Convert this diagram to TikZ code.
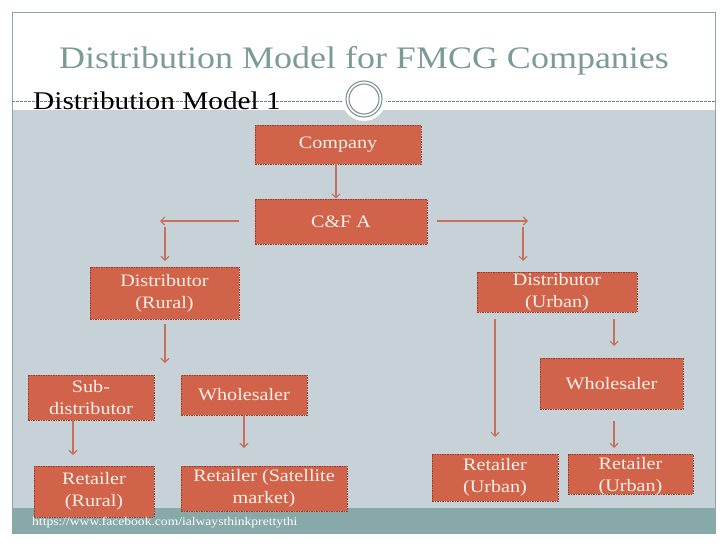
\documentclass[tikz,border=0pt]{standalone}
\usepackage{fontspec}
\setmainfont[FakeStretch=1.15]{Liberation Serif}
\usetikzlibrary{arrows.meta}
\definecolor{boxfill}{HTML}{D1634A}
\definecolor{boxline}{HTML}{9C3E2C}
\definecolor{boxtext}{HTML}{FBF1E8}
\definecolor{arrowc}{HTML}{C7705C}
\definecolor{slidebg}{HTML}{C6D2D8}
\definecolor{band}{HTML}{87A9AA}
\definecolor{frame}{HTML}{8EA5A5}
\definecolor{titlec}{HTML}{7B9B97}
\tikzset{
  boxfont/.style={text=boxtext, align=center, font=\fontsize{17.5}{22}\selectfont},
  box/.style={draw=boxline, fill=boxfill, dash pattern=on 1.5pt off 1pt, line width=0.6pt,
    inner sep=0pt, boxfont},
  arr/.style={draw=arrowc, line width=1.1pt, -{Straight Barb[length=4pt,width=8pt]}},
}
\begin{document}
\begin{tikzpicture}[x=1pt,y=-1pt]
\useasboundingbox (0,0) rectangle (728,546);
\fill[white] (0,0) rectangle (728,546);
% slide background
\fill[slidebg] (12,110) rectangle (715,508);
\fill[band] (12,508) rectangle (715,533);
\draw[frame, line width=0.9pt] (12,12) rectangle (715,533);
\draw[frame!80!black, line width=0.5pt, dash pattern=on 2.5pt off 1.5pt] (12,101) -- (715,101);
\fill[white] (364,99) circle (22);
\draw[frame!90!black, line width=1.1pt] (364,99) circle (18);
\draw[frame!90!black, line width=1.1pt] (364,99) circle (15);
% titles
\node[anchor=base, text=titlec, font=\fontsize{31.3}{38}\selectfont, inner sep=0pt] (title) at (364,68) {Distribution Model for FMCG Companies};
\node[anchor=base west, font=\fontsize{25.5}{30}\selectfont, text=black, inner sep=0pt] (sub) at (33,109) {Distribution Model 1};
% boxes
\node[box, minimum width=166, minimum height=39] (company) at (338,144.5) {Company};
\node[box, minimum width=172, minimum height=45] (cfa) at (341,221.5) {C\&F A};
\node[box, minimum width=149, minimum height=52] (distR) at (164.5,293) {Distributor\\(Rural)};
\node[box, minimum width=160, minimum height=40] (distU) at (557,292) {Distributor\\(Urban)};
\node[box, minimum width=126, minimum height=45] (subd) at (91,397.5) {Sub-\\distributor};
\node[box, minimum width=126, minimum height=40] (wholeL) at (244,395) {Wholesaler};
\node[box, minimum width=143, minimum height=51] (wholeR) at (611.5,383.5) {Wholesaler};
\node[box, minimum width=120, minimum height=51] (retR) at (94,491.5) {Retailer\\(Rural)};
\node[box, minimum width=166, minimum height=45] (retS) at (264,488.5) {Retailer (Satellite\\market)};
\node[box, minimum width=126, minimum height=47] (retU1) at (495,477.5) {Retailer\\(Urban)};
\node[box, minimum width=125, minimum height=40,
  label={[boxfont, yshift=-2pt]center:Retailer\\(Urban)}] (retU2) at (630.5,474) {};
% url
\node[anchor=base west, text=white, font=\fontsize{11.8}{13}\selectfont, inner sep=0pt] (url) at (32,525) {https://www.facebook.com/ialwaysthinkprettythi};
% connector end points
\coordinate (cL0) at (239,221);
\coordinate (cL1) at (160,221);
\coordinate (cLv0) at (165,227);
\coordinate (cLv1) at (165,261);
\coordinate (cR0) at (437,221);
\coordinate (cR1) at (528,221);
\coordinate (cRv0) at (523,227);
\coordinate (cRv1) at (523,261);
\coordinate (dR1) at (165,363);
\coordinate (sd1) at (73,455);
\coordinate (wl1) at (244,448);
\coordinate (du1) at (495,437);
\coordinate (du2) at (614,346);
\coordinate (wr1) at (614,448);
% connectors
\draw[arr] (company.south -| 336,0) -- (cfa.north -| 336,0);
\draw[arr] (cL0) -- (cL1);
\draw[arr] (cLv0) -- (cLv1);
\draw[arr] (cR0) -- (cR1);
\draw[arr] (cRv0) -- (cRv1);
\draw[arr, shorten <=5pt] (distR.south -| dR1) -- (dR1);
\draw[arr] (subd.south -| sd1) -- (sd1);
\draw[arr] (wholeL.south -| wl1) -- (wl1);
\draw[arr, shorten <=7pt] (distU.south -| du1) -- (du1);
\draw[arr, shorten <=7pt] (distU.south -| du2) -- (du2);
\draw[arr, shorten <=12pt] (wholeR.south -| wr1) -- (wr1);
\end{tikzpicture}
\end{document}
